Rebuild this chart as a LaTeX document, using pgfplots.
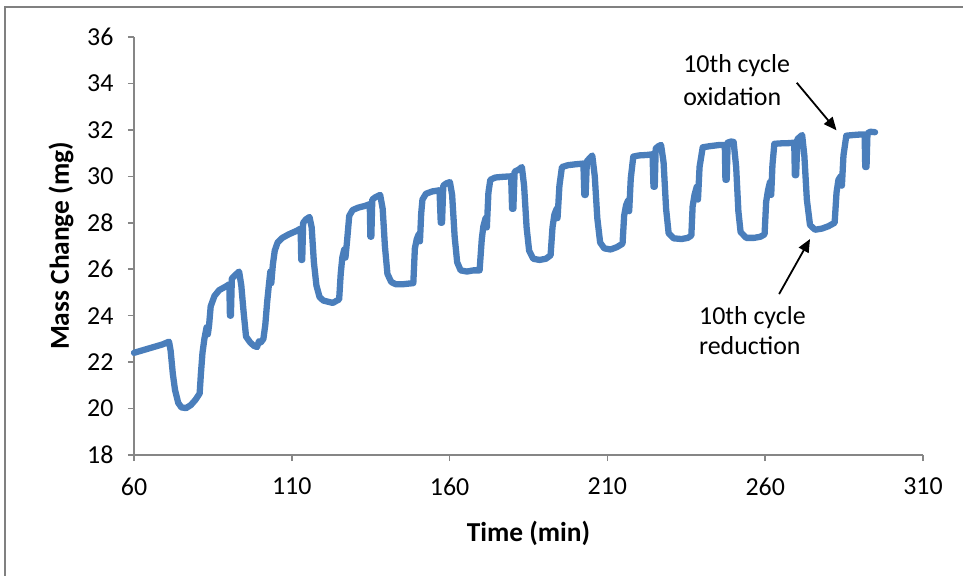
\documentclass[border=0pt]{standalone}
\usepackage{fontspec}
\setmainfont{Carlito}
\usepackage{pgfplots}
\pgfplotsset{compat=1.18}
\usetikzlibrary{arrows.meta}

\definecolor{seriesblue}{RGB}{74,126,187}
\definecolor{axisgray}{RGB}{134,134,134}
\definecolor{framegray}{RGB}{128,128,128}

\newcommand{\chartfont}{\fontsize{26}{31}\selectfont}
\newcommand{\titlefont}{\fontsize{27.5}{32}\selectfont}

\begin{document}
\begin{tikzpicture}
\useasboundingbox (-134bp,-121bp) rectangle (829bp,455bp);
% chart area border (top and left edges)
\draw[framegray, line width=1.6bp] (-129bp,-125bp) -- (-129bp,448bp) -- (833bp,448bp);

\begin{axis}[
  at={(0,0)}, anchor=south west,
  scale only axis, width=789bp, height=418bp,
  xmin=60, xmax=310, ymin=18, ymax=36,
  xtick={60,110,...,310}, ytick={18,20,...,36},
  axis x line=bottom, axis y line=left,
  axis line style={-, draw=axisgray, line width=1.6bp},
  tick align=outside, major tick length=6bp,
  tick style={draw=axisgray, line width=1.6bp},
  /pgf/number format/assume math mode=true,
  ticklabel style={font=\chartfont, text=black},
  yticklabel style={xshift=-11bp},
  xticklabel style={yshift=-13bp},
  xlabel={\textbf{Time (min)}},
  ylabel={\textbf{Mass Change (mg)}},
  label style={font=\titlefont},
  xlabel style={at={(axis description cs:0.5,-0.1866)}, anchor=center},
  ylabel style={at={(axis description cs:-0.0925,0.5)}, anchor=center},
  clip=false,
]
\addplot[seriesblue, line width=6.3bp, line join=round, line cap=round] coordinates {
% start and first reduction
(60,22.40) (63,22.52) (66,22.64) (69,22.76) (71.1,22.88)
(71.6,22.5) (72.3,21.5) (73.0,20.8) (74.0,20.25) (75.0,20.05)
(76.5,20.02) (78.0,20.15) (79.5,20.38) (80.8,20.65)
% cycle 1
(81.2,21.5) (81.7,22.4) (82.3,23.0) (83.0,23.5) (83.4,23.2) (83.8,23.6)
(84.3,24.4) (85.5,24.85) (87.0,25.1) (89.0,25.25) (90.2,25.35)
(90.4,24.0) (90.7,24.0) (91.0,25.6) (92.5,25.8) (93.3,25.9)
(94.0,25.3) (94.7,24.2) (95.5,23.1) (96.8,22.85) (98.0,22.7)
(99.0,22.65) (99.6,22.9) (100.2,22.85) (101.0,23.0)
% cycle 2
(101.6,23.6) (102.2,24.6) (102.8,25.4) (103.2,25.9) (103.5,25.4)
(104.0,26.2) (104.6,26.8) (105.5,27.15) (107.0,27.35) (109.0,27.5)
(111.5,27.65) (112.8,27.75) (113.0,26.4) (113.3,26.4) (113.6,28.0)
(114.5,28.15) (115.6,28.25) (116.3,27.8) (117.0,26.3) (117.8,25.3)
(118.8,24.8) (120.0,24.65) (121.5,24.6) (123.0,24.55) (124.3,24.65) (125.0,24.7)
% cycle 3
(125.5,25.8) (126.0,26.5) (126.6,26.85) (127.0,26.5) (127.5,27.2)
(128.2,28.3) (129.3,28.55) (131.0,28.65) (133.0,28.72) (134.7,28.8)
(134.9,27.4) (135.2,27.4) (135.5,29.0) (136.5,29.1) (138.0,29.2)
(138.8,28.6) (139.5,27.0) (140.3,25.8) (141.5,25.45) (143.0,25.35)
(145.0,25.35) (147.0,25.38) (148.5,25.4)
% cycle 4
(149.0,26.9) (149.6,27.3) (150.2,27.5) (150.6,27.2) (151.0,28.4)
(151.4,29.0) (152.5,29.25) (154.5,29.35) (156.8,29.4) (157.2,28.0)
(157.6,28.0) (158.0,29.6) (159.0,29.7) (160.1,29.75) (160.8,29.2)
(161.6,27.4) (162.4,26.3) (163.5,25.95) (165.5,25.9) (167.5,25.95) (169.5,25.95)
% cycle 5
(170.2,27.3) (170.7,27.85) (171.4,28.2) (171.8,27.8) (172.3,29.3)
(172.9,29.85) (174.5,29.95) (177.0,29.98) (179.5,30.0) (179.8,28.6)
(180.2,28.6) (180.6,30.2) (182.0,30.3) (182.9,30.4) (183.6,29.6)
(184.4,27.8) (185.2,26.8) (186.5,26.45) (188.5,26.4) (190.5,26.45) (192.0,26.6)
% cycle 6
(192.6,27.8) (193.2,28.35) (193.9,28.6) (194.2,28.2) (194.8,29.6)
(195.6,30.4) (197.5,30.48) (200.0,30.52) (202.4,30.55) (202.7,29.2)
(203.1,29.2) (203.5,30.65) (204.5,30.8) (205.2,30.9) (206.0,30.0)
(206.8,28.2) (207.7,27.15) (209.0,26.9) (211.0,26.85) (213.0,26.95) (214.8,27.1)
% cycle 7
(215.3,28.3) (215.9,28.75) (216.5,28.95) (216.9,28.5) (217.4,29.9)
(218.2,30.85) (220.0,30.9) (222.5,30.92) (224.3,30.95) (224.6,29.55)
(225.0,29.55) (225.3,31.2) (226.2,31.3) (227.0,31.35) (227.8,30.6)
(228.6,28.6) (229.4,27.55) (231.0,27.33) (233.5,27.3) (235.5,27.35) (236.6,27.45)
% cycle 8
(237.0,28.7) (237.6,29.2) (238.3,29.55) (238.7,29.0) (239.2,30.4)
(240.2,31.25) (242.5,31.3) (245.5,31.35) (247.2,31.35) (247.4,29.85)
(247.8,29.85) (248.1,31.45) (249.2,31.5) (250.0,31.48) (250.8,30.4)
(251.5,28.5) (252.2,27.6) (254.0,27.35) (256.5,27.35) (258.5,27.4) (259.8,27.5)
% cycle 9
(260.3,28.9) (260.9,29.4) (261.5,29.75) (261.9,29.2) (262.3,30.5)
(262.9,31.4) (265.0,31.42) (267.5,31.43) (269.2,31.45) (269.4,30.05)
(269.8,30.05) (270.2,31.6) (271.0,31.7) (271.7,31.78) (272.4,30.9)
(273.2,29.0) (274.2,27.9) (275.8,27.7) (278.0,27.75) (280.0,27.85) (282.0,28.0)
% cycle 10
(282.6,29.3) (283.2,29.85) (283.9,30.0) (284.3,29.6) (284.8,30.9)
(285.7,31.75) (288.0,31.78) (290.0,31.8) (291.5,31.8) (291.7,30.4)
(292.1,30.4) (292.4,31.85) (293.3,31.92) (294.8,31.9)
};

% annotations
\node[anchor=base west, inner sep=0, font=\chartfont] at (axis cs:234,34.45) {10th cycle};
\node[anchor=base west, inner sep=0, font=\chartfont] at (axis cs:234,33.07) {oxidation};
\draw[black, line width=1.8bp, -{Triangle[length=13bp,width=11bp]}]
  (axis cs:270.0,34.03) -- (axis cs:282.6,31.98);

\node[anchor=base west, inner sep=0, font=\chartfont] at (axis cs:239.0,23.64) {10th cycle};
\node[anchor=base west, inner sep=0, font=\chartfont] at (axis cs:239.0,22.31) {reduction};
\draw[black, line width=1.8bp, -{Triangle[length=13bp,width=11bp]}]
  (axis cs:264.4,24.93) -- (axis cs:274.2,27.30);
\end{axis}
\end{tikzpicture}
\end{document}
